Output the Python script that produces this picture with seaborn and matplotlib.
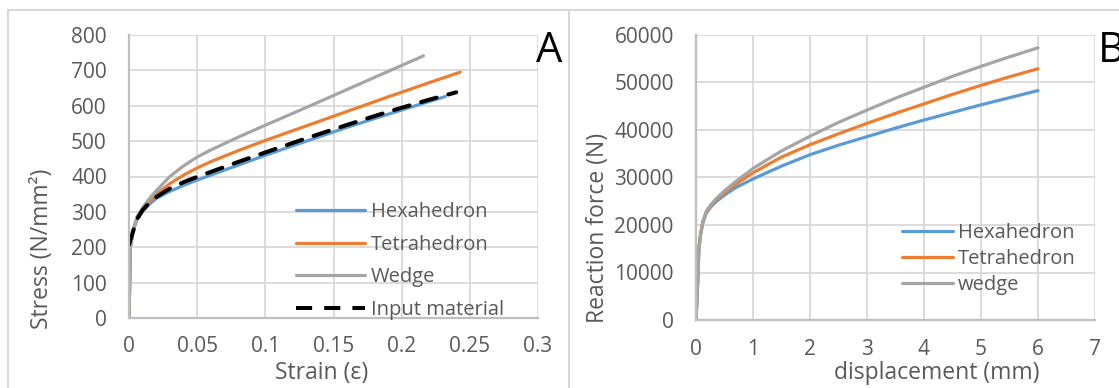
import numpy as np
import pandas as pd
import seaborn as sns
import matplotlib
matplotlib.use("Agg")
import matplotlib.pyplot as plt
from matplotlib.lines import Line2D

# ---------------- data ----------------
strain_hex = [0, 0.0008, 0.001, 0.003, 0.006, 0.01, 0.015, 0.02, 0.03, 0.04, 0.05, 0.06, 0.08, 0.10, 0.13, 0.16, 0.19, 0.21, 0.232]
stress_hex = [0, 150, 200, 245, 280, 302, 322, 338, 358, 375, 390, 404, 432, 460, 500, 539, 576, 600, 626]

strain_tet = [0, 0.0008, 0.001, 0.003, 0.006, 0.01, 0.015, 0.02, 0.03, 0.04, 0.05, 0.06, 0.08, 0.10, 0.13, 0.16, 0.19, 0.22, 0.243]
stress_tet = [0, 150, 200, 248, 285, 308, 330, 350, 380, 404, 424, 442, 473, 502, 543, 584, 625, 665, 695]

strain_wed = [0, 0.0008, 0.001, 0.003, 0.006, 0.01, 0.015, 0.02, 0.03, 0.04, 0.05, 0.06, 0.08, 0.10, 0.13, 0.16, 0.19, 0.216]
stress_wed = [0, 150, 200, 250, 288, 312, 338, 360, 400, 430, 455, 475, 511, 545, 595, 646, 697, 741]

strain_inp = [0, 0.003, 0.006, 0.01, 0.015, 0.02, 0.03, 0.04, 0.05, 0.06, 0.08, 0.10, 0.13, 0.16, 0.19, 0.22, 0.24]
stress_inp = [207, 245, 280, 305, 326, 342, 366, 384, 399, 413, 441, 468, 508, 546, 583, 617, 638]

disp = [0, 0.03, 0.05, 0.08, 0.12, 0.18, 0.25, 0.35, 0.5, 0.7, 1.0, 1.5, 2.0, 2.5, 3.0, 3.5, 4.0, 4.5, 5.0, 5.5, 6.0]
force_hex = [0, 8000, 15000, 18000, 20500, 22500, 23700, 24900, 26300, 27900, 29700, 32400, 34800, 36800, 38600, 40400, 42100, 43700, 45300, 46800, 48300]
force_tet = [0, 8000, 15000, 18000, 20600, 22700, 23900, 25200, 26800, 28600, 31000, 34300, 36900, 39200, 41400, 43500, 45500, 47500, 49400, 51200, 52900]
force_wed = [0, 8000, 15000, 18000, 20700, 22900, 24100, 25500, 27200, 29200, 31900, 35600, 38700, 41600, 44200, 46700, 49000, 51300, 53400, 55400, 57300]

labels_a = ["Hexahedron", "Tetrahedron", "Wedge", "Input material"]
labels_b = ["Hexahedron", "Tetrahedron", "wedge"]
xticks_a = [0, 0.05, 0.1, 0.15, 0.2, 0.25, 0.3]
xtick_labels_a = ["0", "0.05", "0.1", "0.15", "0.2", "0.25", "0.3"]
yticks_a = [0, 100, 200, 300, 400, 500, 600, 700, 800]
xticks_b = [0, 1, 2, 3, 4, 5, 6, 7]
yticks_b = [0, 10000, 20000, 30000, 40000, 50000, 60000]

# ---------------- style ----------------
sns.set_style("white")
plt.rcParams["font.family"] = ["Open Sans", "DejaVu Sans"]
TXT = "#595959"
GRID = "#D9D9D9"
AX = "#BFBFBF"
BLUE, ORANGE, GRAY = "#5B9BD5", "#ED7D31", "#A5A5A5"
TICK_FS = 15
LEG_FS = 14.5
LAB_FS = 16.5

W, H = 1119, 388
fig = plt.figure(figsize=(W / 100, H / 100), dpi=100)


def px_axes(l, r, t, b):
    return fig.add_axes([l / W, 1 - b / H, (r - l) / W, (b - t) / H])


axA = px_axes(129, 538, 35, 318)
axB = px_axes(696, 1095, 35, 320)

dfA = pd.concat([
    pd.DataFrame({"x": strain_hex, "y": stress_hex, "s": labels_a[0]}),
    pd.DataFrame({"x": strain_tet, "y": stress_tet, "s": labels_a[1]}),
    pd.DataFrame({"x": strain_wed, "y": stress_wed, "s": labels_a[2]}),
    pd.DataFrame({"x": strain_inp, "y": stress_inp, "s": labels_a[3]}),
])
dfB = pd.concat([
    pd.DataFrame({"x": disp, "y": force_hex, "s": labels_b[0]}),
    pd.DataFrame({"x": disp, "y": force_tet, "s": labels_b[1]}),
    pd.DataFrame({"x": disp, "y": force_wed, "s": labels_b[2]}),
])

lw = 2.3
dash_lw = 2.9
dash_pat = [4.0, 3.0]
colsA = [BLUE, ORANGE, GRAY]
for lab, c in zip(labels_a[:3], colsA):
    sns.lineplot(data=dfA[dfA.s == lab], x="x", y="y", color=c, lw=lw, ax=axA,
                 sort=False, estimator=None, solid_capstyle="round", solid_joinstyle="round")
sns.lineplot(data=dfA[dfA.s == labels_a[3]], x="x", y="y", color="black", lw=dash_lw,
             ax=axA, sort=False, estimator=None)
axA.lines[-1].set_dashes(dash_pat)
axA.lines[-1].set_dash_capstyle("round")

for lab, c in zip(labels_b, colsA):
    sns.lineplot(data=dfB[dfB.s == lab], x="x", y="y", color=c, lw=lw, ax=axB,
                 sort=False, estimator=None, solid_capstyle="round", solid_joinstyle="round")


def style(ax, xt, xtl, yt, xlim, ylim, ypad, xpad):
    ax.set_xlim(*xlim)
    ax.set_ylim(*ylim)
    ax.set_xticks(xt)
    ax.set_xticklabels(xtl)
    ax.set_yticks(yt)
    ax.set_yticklabels([str(v) for v in yt])
    ax.grid(True, color=GRID, lw=1.3)
    ax.set_axisbelow(True)
    for s in ["top", "right"]:
        ax.spines[s].set_visible(False)
    for s in ["left", "bottom"]:
        ax.spines[s].set_color(AX)
        ax.spines[s].set_linewidth(1.6)
    ax.tick_params(axis="both", length=0, labelsize=TICK_FS, colors=TXT)
    ax.tick_params(axis="x", pad=xpad)
    ax.tick_params(axis="y", pad=ypad)
    ax.set_xlabel("")
    ax.set_ylabel("")
    ax.set_facecolor("white")


style(axA, xticks_a, xtick_labels_a, yticks_a, (0, 0.3), (0, 800), ypad=16, xpad=13)
style(axB, xticks_b, [str(v) for v in xticks_b], yticks_b, (0, 7), (0, 60000), ypad=16, xpad=14)

# axis titles
fig.text(42 / W, 1 - 249 / H, "Stress (N/mm²)", rotation=90, ha="center", va="center",
         fontsize=LAB_FS, color=TXT)
fig.text(322 / W, 1 - 373 / H, "Strain (ε)", ha="center", va="center", fontsize=LAB_FS, color=TXT)
fig.text(598 / W, 1 - 228 / H, "Reaction force (N)", rotation=90, ha="center", va="center",
         fontsize=LAB_FS, color=TXT)
fig.text(937 / W, 1 - 373 / H, "displacement (mm)", ha="center", va="center", fontsize=LAB_FS, color=TXT)

# panel letters
fig.text(536 / W, 1 - 51 / H, "A", ha="left", va="center", fontsize=30, color="black")
fig.text(1098 / W, 1 - 51 / H, "B", ha="left", va="center", fontsize=30, color="black")

# legends
hA = [Line2D([], [], color=BLUE, lw=lw), Line2D([], [], color=ORANGE, lw=lw),
      Line2D([], [], color=GRAY, lw=lw), Line2D([], [], color="black", lw=dash_lw, dashes=dash_pat)]
fs_px = LEG_FS * 100 / 72
legA = fig.legend(hA, labels_a, loc="center left", bbox_to_anchor=(296 / W, 1 - 261 / H),
                  frameon=False, fontsize=LEG_FS, handlelength=69 / fs_px, handletextpad=0.3,
                  labelspacing=0.62, borderpad=0, borderaxespad=0)
hB = hA[:3]
legB = fig.legend(hB, labels_b, loc="center left", bbox_to_anchor=(902 / W, 1 - 259 / H),
                  frameon=False, fontsize=LEG_FS, handlelength=51 / fs_px, handletextpad=0.25,
                  labelspacing=0.3, borderpad=0, borderaxespad=0)
for leg in (legA, legB):
    for t in leg.get_texts():
        t.set_color(TXT)

# outer frame lines of the two panels
for (x0, y0, x1, y1) in [(8, 10, W, 10), (8, 10, 8, H), (569, 10, 569, H)]:
    fig.add_artist(Line2D([x0 / W, x1 / W], [1 - y0 / H, 1 - y1 / H], color=GRID, lw=1.5,
                          transform=fig.transFigure))

fig.savefig("out.png", dpi=100, facecolor="white")
